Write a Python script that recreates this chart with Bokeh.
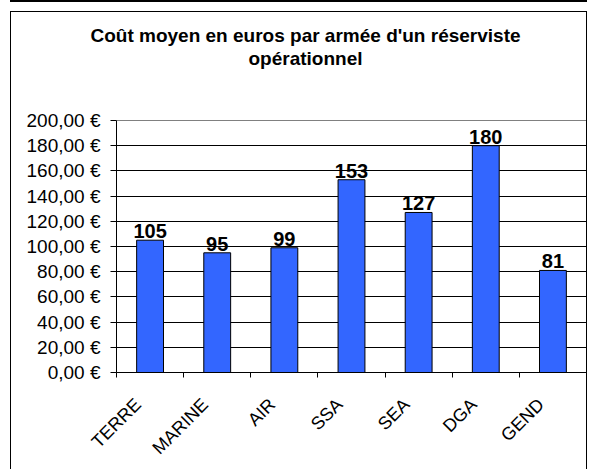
from math import pi
from bokeh.plotting import figure
from bokeh.models import (Range1d, FixedTicker, Title, LinearAxis, ColumnDataSource)
from bokeh.core.properties import value
from bokeh.embed import file_html
from bokeh.resources import INLINE

# ---- data ----
title_lines = ["Coût moyen en euros par armée d'un réserviste", "opérationnel"]
categories = ["TERRE", "MARINE", "AIR", "SSA", "SEA", "DGA", "GEND"]
costs = [105, 95, 99, 153, 127, 180, 81]
cost_labels = ["105", "95", "99", "153", "127", "180", "81"]
y_ticks = [0, 20, 40, 60, 80, 100, 120, 140, 160, 180, 200]
y_tick_labels = ["0,00 €", "20,00 €", "40,00 €", "60,00 €", "80,00 €", "100,00 €",
                 "120,00 €", "140,00 €", "160,00 €", "180,00 €", "200,00 €"]

FONT = "Liberation Sans"
W, H = 577, 458

xs = [i + 0.5 for i in range(len(categories))]
label_pos = [x - 0.18 for x in xs]   # rotated category labels sit slightly left of the bar centre
src = ColumnDataSource(dict(x=xs, top=costs, lab=cost_labels))

p = figure(width=W, height=H, output_backend="svg", toolbar_location=None,
           title_location=None,
           x_range=Range1d(0, len(categories)), y_range=Range1d(y_ticks[0], y_ticks[-1]),
           min_border_left=105, min_border_right=2, min_border_top=108, min_border_bottom=98)
p.styles = {"margin-left": "10px", "margin-top": "11px",
            "border-left": "1px solid black", "border-top": "1px solid black",
            "border-right": "1px solid black",
            "box-shadow": "0 -9px 0 0 white, 0 -11px 0 0 black"}
p.background_fill_color = "white"
p.border_fill_color = "white"
p.outline_line_color = "#808080"
p.outline_line_width = 1

p.vbar(x="x", top="top", width=0.4, bottom=0, source=src,
       fill_color="#3366FF", line_color="black", line_width=1)

p.text(x="x", y="top", text="lab", source=src, text_align="center",
       text_baseline="bottom", y_offset=-2,
       text_font=value(FONT), text_font_style="bold", text_font_size="20px",
       text_color="black")

# x axis: ticks at category boundaries, labels near category centres
p.xaxis.ticker = FixedTicker(ticks=label_pos, minor_ticks=list(range(len(categories) + 1)))
p.xaxis.major_label_overrides = {x: c for x, c in zip(label_pos, categories)}
p.xaxis.major_label_orientation = pi / 4
p.xaxis.major_tick_in = 0
p.xaxis.major_tick_out = 0
p.xaxis.minor_tick_in = 0
p.xaxis.minor_tick_out = 5
p.xaxis.minor_tick_line_color = "black"
p.xaxis.axis_line_color = "black"
p.xaxis.major_label_standoff = 24
p.xaxis.major_label_text_font = FONT
p.xaxis.major_label_text_font_size = "18px"
p.xaxis.major_label_text_color = "black"

# y axis
p.yaxis.ticker = FixedTicker(ticks=y_ticks, minor_ticks=[])
p.yaxis.major_label_overrides = {t: l for t, l in zip(y_ticks, y_tick_labels)}
p.yaxis.major_tick_in = 0
p.yaxis.major_tick_out = 6
p.yaxis.major_tick_line_color = "black"
p.yaxis.axis_line_color = "black"
p.yaxis.major_label_standoff = 10
p.yaxis.major_label_text_font = FONT
p.yaxis.major_label_text_font_size = "19px"
p.yaxis.major_label_text_color = "black"

p.xgrid.grid_line_color = None
p.ygrid.grid_line_color = "black"
p.ygrid.grid_line_width = 1

# empty spacer between the plot area and the title (one white tick, no label)
spacer = LinearAxis(ticker=FixedTicker(ticks=[0], minor_ticks=[]), axis_line_color=None,
                    major_tick_out=52, major_tick_in=0, major_tick_line_color="white",
                    major_label_standoff=0, major_label_text_font_size="0px",
                    major_label_overrides={0: ""},
                    minor_tick_out=0, minor_tick_in=0)
p.add_layout(spacer, "above")

# two-line title, each line centred on the same point
title_offsets = [-26, 132]
for line, off in zip(reversed(title_lines), reversed(title_offsets)):
    p.add_layout(Title(text=line, align="left", offset=off, standoff=0,
                       vertical_align="bottom",
                       text_font=FONT, text_font_style="bold", text_font_size="19px",
                       text_color="black"), "above")

open("out.html", "w").write(file_html(p, INLINE))
